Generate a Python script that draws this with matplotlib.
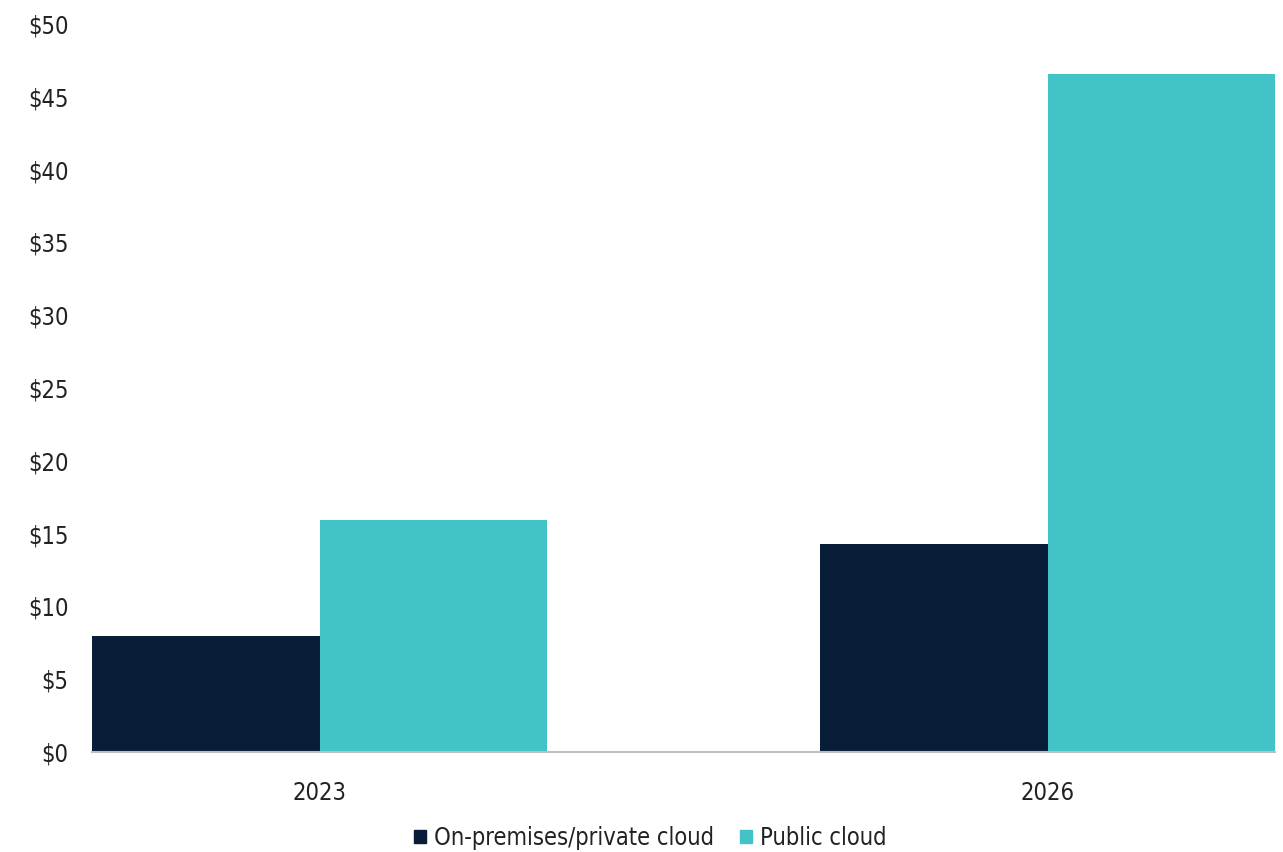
import numpy as np
import matplotlib.pyplot as plt
from matplotlib.patches import Patch

plt.rcParams['font.family'] = ['DejaVu Sans']
plt.rcParams['font.stretch'] = 'condensed'

years = ['2023', '2026']
on_prem = [7.95, 14.3]
public = [15.9, 46.6]
y_ticks = [0, 5, 10, 15, 20, 25, 30, 35, 40, 45, 50]
tick_labels = ['$' + str(t) for t in y_ticks]

dark = '#081d38'
teal = '#41c3c8'

fig = plt.figure(figsize=(12.83, 8.52), dpi=100)
ax = fig.add_axes([92/1283, 100/852, 1183/1283, 728/852])

x = np.arange(len(years))
w = 0.3125
ax.bar(x - w/2, on_prem, w, color=dark)
ax.bar(x + w/2, public, w, color=teal)

ax.set_xlim(-w, 1 + w)
ax.set_ylim(0, 50)
ax.set_yticks(y_ticks)
ax.set_yticklabels(tick_labels)
ax.set_xticks(x)
ax.set_xticklabels(years)
ax.tick_params(axis='both', length=0, labelsize=17, colors='#222222')
ax.tick_params(axis='y', pad=17)
ax.tick_params(axis='x', pad=21)

for s in ['top', 'right', 'left']:
    ax.spines[s].set_visible(False)
ax.spines['bottom'].set_color('#bfbfbf')
ax.spines['bottom'].set_linewidth(1.5)

handles = [Patch(color=dark, label='On-premises/private cloud'),
           Patch(color=teal, label='Public cloud')]
fig.legend(handles=handles, loc='center', bbox_to_anchor=(650/1283, 1 - 838/852),
           ncol=2, frameon=False, fontsize=17, handlelength=0.5, handleheight=0.5,
           handletextpad=0.34, columnspacing=1.1, labelcolor='#222222')

fig.savefig('out.png', dpi=100)
